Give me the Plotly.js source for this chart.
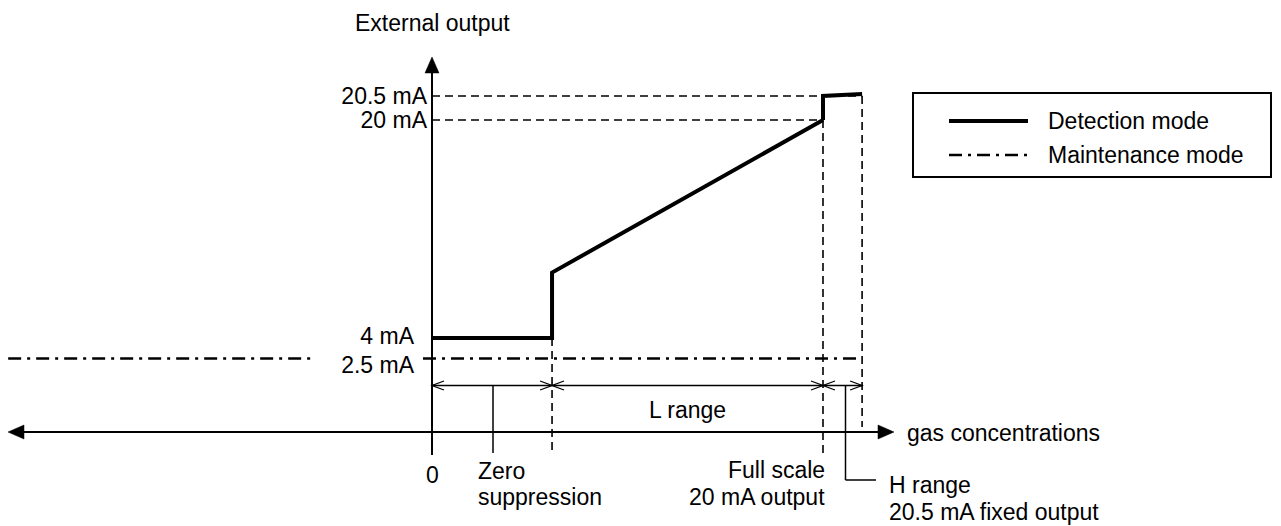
<!DOCTYPE html>
<html>
<head>
<meta charset="utf-8">
<script src="https://cdn.plot.ly/plotly-3.0.1.min.js"></script>
<style>
html,body{margin:0;padding:0;background:#fff;}
#chart{width:1281px;height:526px;}
</style>
</head>
<body>
<div id="chart"></div>
<script>
// ---------------- data (schematic values) ----------------
// x: gas concentration in % of full scale, y: external output in mA
const modeNames = ['Detection mode', 'Maintenance mode'];
const levelLabels = ['2.5 mA', '4 mA', '20 mA', '20.5 mA'];
const levelValues = [2.5, 4, 20, 20.5];
const zeroSuppression = 30.7;
const fullScale = 100;
const hRangeEnd = 110;
const detectionX = [0, 30.7, 30.7, 100];
const detectionY = [4, 4, 8.8, 20];
const hRangeX = [100, 100, 110];
const hRangeY = [20, 20.5, 20.54];
const maintenanceX = [-108.4, -30.2, null, -2.3, 110];
const maintenanceY = [2.5, 2.5, null, 2.5, 2.5];
const yTitle = 'External output';
const xTitle = 'gas concentrations';
const zeroLabel = '0';
const zsLabel = ['Zero', 'suppression'];
const fsLabel = ['Full scale', '20 mA output'];
const hLabel = ['H range', '20.5 mA fixed output'];
const lRangeLabel = 'L range';

// ---------------- geometry helpers ----------------
const W = 1281, H = 526;
const X0 = 432, XFS = 823;
const kx = (XFS - X0) / 100;
const px2x = p => (p - X0) / kx;
const xRange = [px2x(0), px2x(W)];
const ky = (338 - 120) / 16;            // lower band: 4 mA @338px, 20 mA @120px
const toY = p => 4 - (p - 338) / ky;
const yRange = [toY(H), toY(0)];
const ky2 = (120 - 96) / 0.5;           // upper band (exaggerated): 20 mA @120px, 20.5 mA @96px
const toY2 = p => 20 - (p - 120) / ky2;
const y2Range = [toY2(H), toY2(0)];
const py = p => (H - p) / H;

const FONT = 'Liberation Sans, Arial, Helvetica, sans-serif';
const FS = 23;
const black = '#000';
const dashDot = '13px,6px,3px,6px';
const guide = {color: black, width: 1.6, dash: '8px,5px'};
const thin = {color: black, width: 1.3};

// ---------------- traces ----------------
const traces = [
  {x: detectionX, y: detectionY, type: 'scatter', mode: 'lines', name: modeNames[0],
   line: {color: black, width: 4}, showlegend: false, xaxis: 'x', yaxis: 'y'},
  {x: hRangeX, y: hRangeY, type: 'scatter', mode: 'lines', name: modeNames[0],
   line: {color: black, width: 4}, showlegend: false, xaxis: 'x', yaxis: 'y2'},
  {x: maintenanceX, y: maintenanceY, type: 'scatter', mode: 'lines', name: modeNames[1],
   line: {color: black, width: 2.6, dash: dashDot}, connectgaps: false, showlegend: false,
   xaxis: 'x', yaxis: 'y3'}
];

// ---------------- shapes ----------------
const shapes = [];
// dashed guides
shapes.push({type: 'line', xref: 'x', yref: 'y', x0: 0, x1: fullScale, y0: levelValues[2], y1: levelValues[2], line: guide});
shapes.push({type: 'line', xref: 'x', yref: 'y2', x0: 0, x1: hRangeEnd, y0: levelValues[3], y1: levelValues[3], line: guide});
shapes.push({type: 'line', xref: 'x', yref: 'y', x0: fullScale, x1: fullScale, y0: levelValues[2], y1: toY(457), line: guide});
shapes.push({type: 'line', xref: 'x', yref: 'y2', x0: hRangeEnd, x1: hRangeEnd, y0: levelValues[3], y1: toY2(427), line: guide});
shapes.push({type: 'line', xref: 'x', yref: 'y', x0: zeroSuppression, x1: zeroSuppression, y0: levelValues[1], y1: toY(453), line: guide});
// axes lines
shapes.push({type: 'line', xref: 'x', yref: 'paper', x0: px2x(12), x1: px2x(884), y0: py(432), y1: py(432), line: {color: black, width: 2}});
shapes.push({type: 'line', xref: 'x', yref: 'paper', x0: 0, x1: 0, y0: py(455), y1: py(68), line: {color: black, width: 2}});
// arrowheads
const tri = (xa, ya, path) => ({type: 'path', xref: 'x', yref: 'paper', xsizemode: 'pixel', ysizemode: 'pixel',
  xanchor: xa, yanchor: ya, path: path, fillcolor: black, line: {color: black, width: 0.5}});
shapes.push(tri(px2x(894), py(432), 'M0,0L-16,7L-16,-7Z'));
shapes.push(tri(px2x(8), py(432), 'M0,0L16,7L16,-7Z'));
shapes.push(tri(0, py(57), 'M0,0L-7,-16L7,-16Z'));
// dimension line
const dimY = py(385.5);
shapes.push({type: 'line', xref: 'x', yref: 'paper', x0: 0, x1: hRangeEnd, y0: dimY, y1: dimY, line: thin});
const heads = [[0, 1], [zeroSuppression, -1], [zeroSuppression, 1], [fullScale, -1], [fullScale, 1], [hRangeEnd, -1]];
heads.forEach(h => {
  const d = h[1];
  shapes.push({type: 'path', xref: 'x', yref: 'paper', xsizemode: 'pixel', ysizemode: 'pixel',
    xanchor: h[0], yanchor: dimY, path: `M${12 * d},4.5L0,0L${12 * d},-4.5`, line: thin});
});
// leaders
shapes.push({type: 'line', xref: 'x', yref: 'paper', x0: px2x(493), x1: px2x(493), y0: py(386), y1: py(453), line: {color: black, width: 1.5}});
shapes.push({type: 'line', xref: 'x', yref: 'paper', x0: px2x(845.5), x1: px2x(845.5), y0: py(386), y1: py(480), line: {color: black, width: 1.5}});
shapes.push({type: 'line', xref: 'x', yref: 'paper', x0: px2x(845.5), x1: px2x(876), y0: py(480), y1: py(480), line: {color: black, width: 1.5}});
// legend box + samples
shapes.push({type: 'rect', xref: 'paper', yref: 'paper', x0: 913 / W, x1: 1271 / W, y0: py(93), y1: py(177), line: {color: black, width: 2}, fillcolor: 'rgba(0,0,0,0)'});
shapes.push({type: 'line', xref: 'paper', yref: 'paper', x0: 949 / W, x1: 1028 / W, y0: py(121), y1: py(121), line: {color: black, width: 4}});
shapes.push({type: 'line', xref: 'paper', yref: 'paper', x0: 949 / W, x1: 1028 / W, y0: py(155), y1: py(155), line: {color: black, width: 2.6, dash: dashDot}});

// ---------------- annotations ----------------
const font = {family: FONT, size: FS, color: black};
const ann = (x, y, text, xanchor, xref) => ({x: x, y: y, xref: xref || 'x', yref: 'paper', text: text,
  showarrow: false, xanchor: xanchor, yanchor: 'middle', font: font});
const annotations = [
  ann(0, py(23), yTitle, 'center'),
  ann(px2x(905), py(433), xTitle, 'left'),
  ann(0, py(475), zeroLabel, 'center'),
  ann(px2x(476), py(471), zsLabel[0], 'left'),
  ann(px2x(476), py(497), zsLabel[1], 'left'),
  ann(px2x(827), py(470), fsLabel[0], 'right'),
  ann(px2x(827), py(497), fsLabel[1], 'right'),
  ann(px2x(887), py(485), hLabel[0], 'left'),
  ann(px2x(887), py(512), hLabel[1], 'left'),
  ann((zeroSuppression + fullScale) / 2, py(410), lRangeLabel, 'center'),
  ann(1046 / W, py(121), modeNames[0], 'left', 'paper'),
  ann(1046 / W, py(155), modeNames[1], 'left', 'paper')
];

// ---------------- layout ----------------
const yCommon = {showgrid: false, zeroline: false, showline: false, ticks: '', anchor: 'free',
  position: X0 / W, side: 'left', tickfont: font, fixedrange: true};
const layout = {
  width: W, height: H,
  margin: {l: 0, r: 0, t: 0, b: 0, pad: 0},
  paper_bgcolor: '#fff', plot_bgcolor: '#fff',
  font: font,
  showlegend: false,
  xaxis: {range: xRange, visible: false, domain: [0, 1], fixedrange: true},
  // 4 mA label
  yaxis: Object.assign({}, yCommon, {range: yRange, domain: [0, 1],
    tickvals: levelValues.slice(1, 2), ticktext: levelLabels.slice(1, 2),
    ticklabelstandoff: 18, ticklabelshift: -2}),
  // 20 mA and 20.5 mA labels (upper, exaggerated band)
  yaxis2: Object.assign({}, yCommon, {range: y2Range, overlaying: 'y',
    tickvals: levelValues.slice(2), ticktext: levelLabels.slice(2), ticklabelstandoff: 5}),
  // 2.5 mA label (same scale as the lower band)
  yaxis3: Object.assign({}, yCommon, {range: yRange, overlaying: 'y',
    tickvals: levelValues.slice(0, 1), ticktext: levelLabels.slice(0, 1),
    ticklabelstandoff: 18, ticklabelshift: 6}),
  shapes: shapes,
  annotations: annotations
};

Plotly.newPlot('chart', traces, layout, {staticPlot: true, displayModeBar: false});
</script>
</body>
</html>
